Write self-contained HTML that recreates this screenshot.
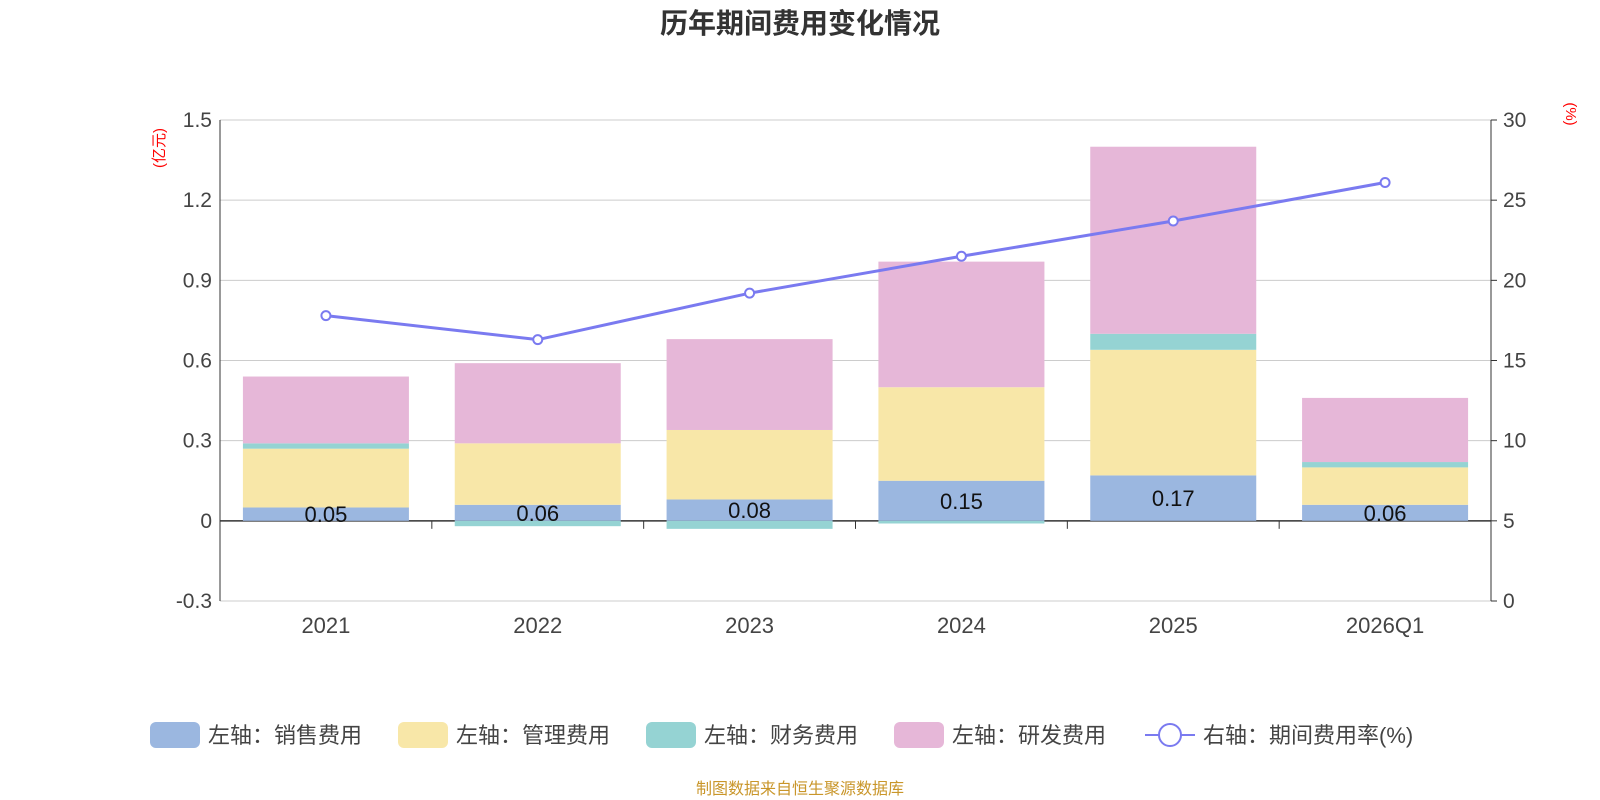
<!DOCTYPE html>
<html><head><meta charset="utf-8"><style>
body{margin:0;background:#fff;}
svg{display:block;font-family:"Liberation Sans","Noto Sans CJK SC",sans-serif;}
</style></head><body>
<svg id="c" width="1600" height="800">
<text x="800" y="33" text-anchor="middle" font-size="28" font-weight="bold" fill="#333">历年期间费用变化情况</text>
<text transform="translate(164,148) rotate(-90)" text-anchor="middle" font-size="15" fill="red">(亿元)</text>
<text transform="translate(1566,114) rotate(90)" text-anchor="middle" font-size="15" fill="red">(%)</text>
<g id="grid"></g><g id="bars"></g><g id="axes"></g><g id="line"></g>
<g id="legend"></g>
<text x="800" y="794" text-anchor="middle" font-size="16" fill="#c9962a">制图数据来自恒生聚源数据库</text>
</svg>
<script>
const categories=["2021","2022","2023","2024","2025","2026Q1"];
const sales=[0.05,0.06,0.08,0.15,0.17,0.06];
const mgmt=[0.22,0.23,0.26,0.35,0.47,0.14];
const finance=[0.02,-0.02,-0.03,-0.01,0.06,0.02];
const rnd=[0.25,0.30,0.34,0.47,0.70,0.24];
const rate=[17.8,16.3,19.2,21.5,23.7,26.1];
const leftTicks=[-0.3,0,0.3,0.6,0.9,1.2,1.5];
const rightTicks=[0,5,10,15,20,25,30];
const NS="http://www.w3.org/2000/svg";
const X0=220,X1=1491,YT=120,YB=601;
const yL=v=>YT+(1.5-v)/1.8*(YB-YT);
const yR=v=>YT+(30-v)/30*(YB-YT);
const bw=(X1-X0)/categories.length;
const xc=i=>X0+bw*(i+0.5);
function mk(p,tag,a,t){const e=document.createElementNS(NS,tag);for(const k in a)e.setAttribute(k,a[k]);if(t!=null)e.textContent=t;document.getElementById(p).appendChild(e);return e;}
leftTicks.forEach(v=>{
 const l=mk('grid','line',{x1:X0,x2:X1,y1:yL(v),y2:yL(v),stroke:v===0?'#333':'#ccc','stroke-width':v===0?1.5:1});
 
 
 const t=mk('axes','text',{x:X0-8,y:yL(v)+7,'text-anchor':'end','font-size':21,fill:'#444'},v===0?'0':v.toFixed(1));
 
 
});
rightTicks.forEach(v=>{
 mk('axes','line',{x1:X1,x2:X1+6,y1:yR(v),y2:yR(v),stroke:'#333'});
 const t=mk('axes','text',{x:X1+12,y:yR(v)+7,'font-size':21,fill:'#444'},v);
 
 
});
mk('axes','line',{x1:X0,x2:X0,y1:YT,y2:YB,stroke:'#333'});
mk('axes','line',{x1:X1,x2:X1,y1:YT,y2:YB,stroke:'#333'});
const colors=['#9bb7e0','#f8e7a8','#95d3d3','#e6b7d8'];
const series=[sales,mgmt,finance,rnd];
categories.forEach((c,i)=>{
 let pos=0,neg=0;
 series.forEach((s,k)=>{
  const v=s[i];let y0,y1;
  if(v>=0){y0=pos;y1=pos+v;pos=y1;}else{y0=neg;y1=neg+v;neg=y1;}
  const r=mk('bars','rect',{x:xc(i)-83,width:166,y:yL(Math.max(y0,y1)),height:Math.abs(yL(y0)-yL(y1)),fill:colors[k]});
  
  
 });
 const t=mk('bars','text',{x:xc(i),y:(yL(0)+yL(sales[i]))/2+8,'text-anchor':'middle','font-size':22,fill:'#111'},sales[i].toFixed(2));
 
 
 const xl=mk('axes','text',{x:xc(i),y:633,'text-anchor':'middle','font-size':22,fill:'#444'},c);
 
 
 if(i>0)mk('axes','line',{x1:X0+bw*i,x2:X0+bw*i,y1:yL(0),y2:yL(0)+8,stroke:'#333'});
});
const pl=mk('line','polyline',{points:rate.map((v,i)=>xc(i)+','+yR(v)).join(' '),fill:'none',stroke:'#7a7af0','stroke-width':3});


rate.forEach((v,i)=>{
 const p=mk('line','circle',{cx:xc(i),cy:yR(v),r:4.5,fill:'#fff',stroke:'#7a7af0','stroke-width':2});
 
 
});
const leg=[["左轴：销售费用",150],["左轴：管理费用",398],["左轴：财务费用",646],["左轴：研发费用",894]];
leg.forEach((l,k)=>{
 const r=mk('legend','rect',{x:l[1],y:722,width:50,height:26,rx:6,fill:colors[k]});
 
 
 const t=mk('legend','text',{x:l[1]+58,y:743,'font-size':22,fill:'#444'},l[0]);
 
 
});
mk('legend','line',{x1:1145,x2:1195,y1:735,y2:735,stroke:'#7a7af0','stroke-width':2});
mk('legend','circle',{cx:1170,cy:735,r:11,fill:'#fff',stroke:'#7a7af0','stroke-width':2});
const lt=mk('legend','text',{x:1203,y:743,'font-size':22,fill:'#444'},'右轴：期间费用率(%)');


</script>
</body></html>
